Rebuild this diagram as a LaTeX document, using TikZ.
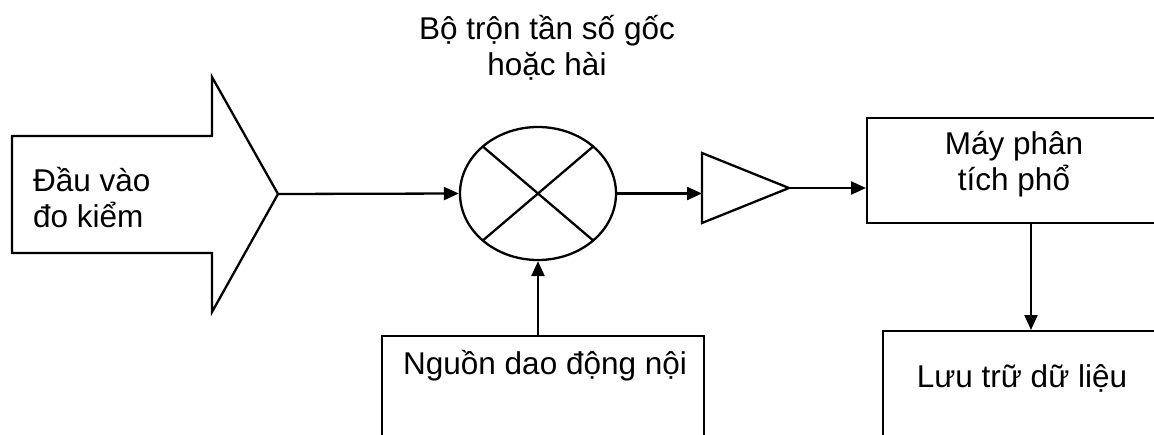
\documentclass[tikz,border=0pt]{standalone}
\usepackage{fontspec}
\setmainfont{Liberation Sans}
\usetikzlibrary{arrows.meta,shapes.geometric,calc}
\begin{document}
\begin{tikzpicture}[x=1pt,y=-1pt,
  line/.style={line width=2.3pt},
  arr/.style={line width=2.3pt,-{Triangle[length=15pt,width=13pt]}},
  lbl/.style={inner sep=0pt,font=\fontsize{31.5}{36}\selectfont},
  box/.style={draw,line width=2.3pt,inner sep=0pt,anchor=north west}]
\useasboundingbox (0,0) rectangle (1154,434);
\clip (0,0) rectangle (1154,434);
% block input arrow
\draw[line,line join=miter] (12,136) -- (212,136) -- (212,77) -- (278,194) -- (212,312) -- (212,253) -- (12,253) -- cycle;
\coordinate (intip) at (278,194);
\node[lbl,anchor=base west,align=left] (intxt) at (33,227) {Đầu vào\\đo kiểm};
% mixer
\node[draw,ellipse,line width=2.3pt,minimum width=156pt,minimum height=133pt,inner sep=0pt] (mix) at (538,193.5) {};
\draw[line] ($(mix.center)+(-55.2,-47)$) -- ($(mix.center)+(55.2,47)$);
\draw[line] ($(mix.center)+(-55.2,47)$) -- ($(mix.center)+(55.2,-47)$);
\node[lbl,anchor=base,align=center] (mixtxt) at (547,75) {Bộ trộn tần số gốc\\hoặc hài};
% amplifier
\draw[line,line join=miter] (702,153) -- (789,188) -- (702,223) -- cycle;
\coordinate (ampin) at (702,193.5);
\coordinate (ampout) at (789,188);
% boxes
\node[box,minimum width=400pt,minimum height=105pt] (spec) at (866,117) {};
\node[lbl,anchor=base,align=center] (spectxt) at (1014,190) {Máy phân\\tích phổ};
\node[box,minimum width=400pt,minimum height=200pt] (store) at (882,330) {};
\node[lbl,anchor=base] (storetxt) at (1022,387) {Lưu trữ dữ liệu};
\node[box,minimum width=322pt,minimum height=200pt] (lo) at (381,335) {};
\node[lbl,anchor=base west] (lotxt) at (403,374) {Nguồn dao động nội};
% connectors
\draw[arr] (intip) -- (mix.west);
\draw[arr] (mix.east) -- (ampin);
\draw[arr] (ampout) -- (spec.west |- ampout);
\draw[arr] (lo.north -| mix.south) -- (mix.south);
\coordinate (dn) at (1031,0);
\draw[arr] (spec.south -| dn) -- (store.north -| dn);
\end{tikzpicture}
\end{document}
